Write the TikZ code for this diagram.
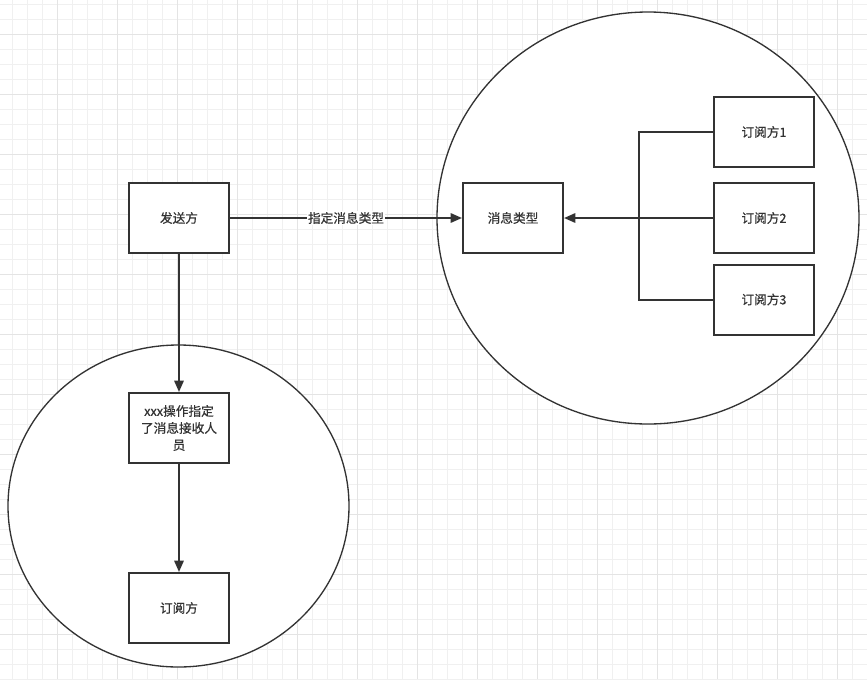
\documentclass[tikz,border=0pt]{standalone}
\usepackage{fontspec}
\setmainfont{Noto Sans CJK SC}[FakeBold=0.6]
\usetikzlibrary{arrows.meta}
\definecolor{ink}{HTML}{333333}
\definecolor{minorgrid}{HTML}{F0F0F0}
\definecolor{majorgrid}{HTML}{E4E4E4}
\begin{document}
\begin{tikzpicture}
[x=0.75pt,y=-0.75pt,
box/.style={draw=ink,line width=1.5pt,fill=white,minimum width=75pt,minimum height=52.5pt,inner sep=0pt,align=center,text=ink},
ring/.style={draw=ink,line width=1pt,fill=white},
link/.style={draw=ink,line width=1.5pt},
arrow/.style={link,-{Triangle[length=8.5pt,width=7pt]}}]
\fontsize{9.5}{12.75}\selectfont
\useasboundingbox[fill=white] (0,0) rectangle (867,679);
\foreach \x in {12.5,27.5,...,867} \draw[minorgrid,line width=0.75pt] (\x,0) -- (\x,679);
\foreach \y in {4,19,...,679} \draw[minorgrid,line width=0.75pt] (0,\y) -- (867,\y);
\foreach \x in {57.5,117.5,...,867} \draw[majorgrid,line width=0.75pt] (\x,0) -- (\x,679);
\foreach \y in {34,94,...,679} \draw[majorgrid,line width=0.75pt] (0,\y) -- (867,\y);
\draw[ring] (648,218) ellipse [x radius=211,y radius=206];
\draw[ring] (178.5,506) ellipse [x radius=170.5,y radius=161];
\node[box] (sender) at (179,218) {发送方};
\node[box] (msgtype) at (513,218) {消息类型};
\node[box] (sub1) at (764,132) {订阅方1};
\node[box] (sub2) at (764,218) {订阅方2};
\node[box] (sub3) at (764,299.5) {订阅方3};
\node[box] (appoint) at (179,428) {xxx操作指定\\了消息接收人\\员};
\node[box] (receiver) at (179,608) {订阅方};
\coordinate (bus) at (639,218);
\draw[arrow] (sender) -- node[fill=white,inner sep=1pt,text=ink] {指定消息类型} (msgtype);
\draw[arrow] (sub2) -- (msgtype);
\draw[link] (sub1.west) -| (bus) |- (sub3.west);
\draw[arrow] (sender) -- (appoint);
\draw[arrow] (appoint) -- (receiver);
\end{tikzpicture}
\end{document}
